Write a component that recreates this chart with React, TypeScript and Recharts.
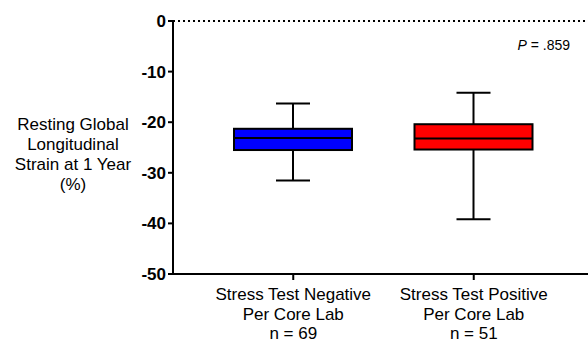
import React from "react";
import { ComposedChart, Bar, XAxis, YAxis, ReferenceLine } from "recharts";

const categories = ["Stress Test Negative", "Stress Test Positive"];
const subLabels = ["Per Core Lab", "Per Core Lab"];
const nCounts = [69, 51];
const whiskerLow = [-31.5, -39.2];
const q1 = [-25.5, -25.4];
const median = [-23.1, -23.2];
const q3 = [-21.3, -20.4];
const whiskerHigh = [-16.3, -14.2];
const boxColors = ["#0000FF", "#FF0000"];
const yTicks = [0, -10, -20, -30, -40, -50];
const yLabelLines = ["Resting Global", "Longitudinal", "Strain at 1 Year", "(%)"];
const pValue = ".859";

const data = categories.map((name, i) => ({
  name,
  sub: subLabels[i],
  n: nCounts[i],
  box: [q1[i], q3[i]],
  lo: whiskerLow[i],
  q1: q1[i],
  med: median[i],
  q3: q3[i],
  hi: whiskerHigh[i],
  color: boxColors[i],
}));

const FONT = "'Liberation Sans', Arial, Helvetica, sans-serif";

const BoxShape = (props: any) => {
  const { x, y, width, height, payload } = props;
  const top = Math.min(y, y + height);
  const h = Math.abs(height);
  const ppu = h / (payload.q3 - payload.q1);
  const yOf = (v: number) => top + (payload.q3 - v) * ppu;
  const cx = x + width / 2;
  const capHalf = 17;
  return (
    <g>
      <line x1={cx} x2={cx} y1={yOf(payload.hi)} y2={yOf(payload.q3)} stroke="#000" strokeWidth={2} />
      <line x1={cx} x2={cx} y1={yOf(payload.q1)} y2={yOf(payload.lo)} stroke="#000" strokeWidth={2} />
      <line x1={cx - capHalf} x2={cx + capHalf} y1={yOf(payload.hi)} y2={yOf(payload.hi)} stroke="#000" strokeWidth={2} />
      <line x1={cx - capHalf} x2={cx + capHalf} y1={yOf(payload.lo)} y2={yOf(payload.lo)} stroke="#000" strokeWidth={2} />
      <rect x={x} y={top} width={width} height={h} fill={payload.color} stroke="#000" strokeWidth={2} />
      <line x1={x} x2={x + width} y1={yOf(payload.med)} y2={yOf(payload.med)} stroke="#000" strokeWidth={2} />
    </g>
  );
};

const XTick = (props: any) => {
  const { x, y, index } = props;
  const lines = [categories[index], subLabels[index], `n = ${nCounts[index]}`];
  return (
    <text x={x} y={y} textAnchor="middle" fontFamily={FONT} fontSize={17} fill="#000">
      {lines.map((l, i) => (
        <tspan key={i} x={x} dy={i === 0 ? 18 : 19.5}>
          {l}
        </tspan>
      ))}
    </text>
  );
};

const YTick = (props: any) => {
  const { x, y, payload } = props;
  return (
    <text x={x} y={y} dy={6} textAnchor="end" fontFamily={FONT} fontSize={17} fontWeight="bold" fill="#000">
      {payload.value}
    </text>
  );
};

const YLabel = (props: any) => {
  const vb = props.viewBox || { x: 0, y: 21, width: 173, height: 253 };
  const y0 = vb.y + vb.height / 2 - 17.5;
  return (
    <text x={73} y={y0} textAnchor="middle" fontFamily={FONT} fontSize={17} fill="#000">
      {yLabelLines.map((l, i) => (
        <tspan key={i} x={73} dy={i === 0 ? 0 : 20}>
          {l}
        </tspan>
      ))}
    </text>
  );
};

const PLabel = (props: any) => {
  const vb = props.viewBox || { x: 173, y: 21, width: 415 };
  return (
    <text x={vb.x + vb.width - 18} y={vb.y + 29} textAnchor="end" fontFamily={FONT} fontSize={14} fill="#000">
      <tspan fontStyle="italic">P</tspan>
      {` = ${pValue}`}
    </text>
  );
};

export default function App() {
  return (
    <div style={{ position: "absolute", left: 0, top: 0, width: 588, height: 343, background: "#fff" }}>
      <ComposedChart width={588} height={343} data={data} margin={{ top: 21, right: 0, bottom: 0, left: 0 }}>
        <XAxis
          dataKey="name"
          height={69}
          padding={{ left: 30, right: 24 }}
          interval={0}
          stroke="#000"
          strokeWidth={2}
          tickSize={6}
          tick={<XTick />}
        />
        <YAxis
          domain={[-50, 0]}
          ticks={yTicks}
          width={173}
          stroke="#000"
          strokeWidth={2}
          tickSize={5}
          interval={0}
          allowDataOverflow
          tick={<YTick />}
          label={<YLabel />}
        />
        <ReferenceLine y={0} stroke="#000" strokeWidth={2} strokeDasharray="2 3" label={<PLabel />} />
        <Bar dataKey="box" barSize={118} shape={<BoxShape />} isAnimationActive={false} />
      </ComposedChart>
    </div>
  );
}
